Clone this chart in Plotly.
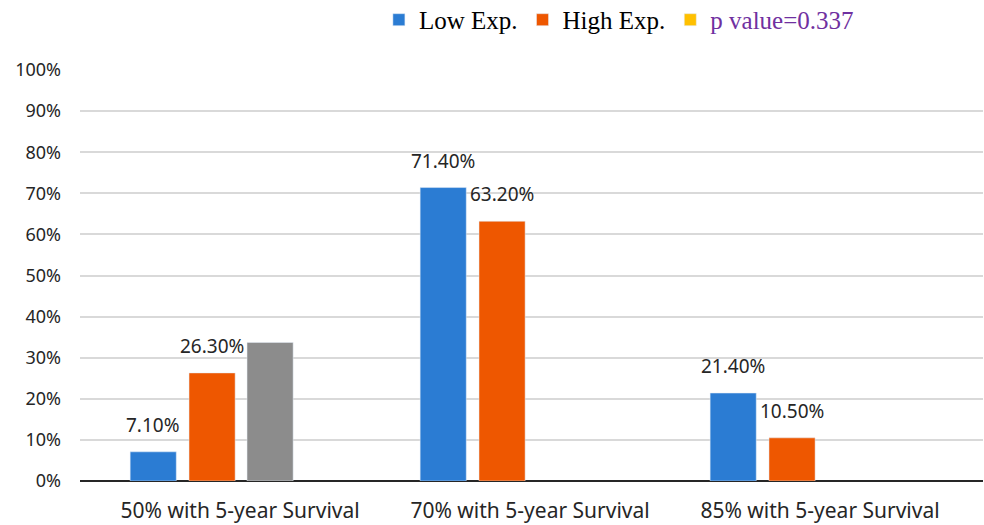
import plotly.graph_objects as go

# Survival-rate groups and the share of patients in each expression group
categories = ["50% with 5-year Survival", "70% with 5-year Survival", "85% with 5-year Survival"]
low_exp = [0.071, 0.714, 0.214]
high_exp = [0.263, 0.632, 0.105]
p_value = [0.337, None, None]

series_names = ["Low Exp.", "High Exp.", "p value=0.337"]
y_ticks = [i / 10 for i in range(11)]

BLUE = "#2B7CD3"
ORANGE = "#EE5700"
GRAY = "#8C8C8C"
YELLOW = "#FFC000"
PURPLE = "#7030A0"
TEXT = "#262626"
SANS = "Noto Sans"
SERIF = "Liberation Serif"

BAR_W = 0.159
OFFSETS = {"low": -0.379, "high": -0.176, "p": 0.024}
label_font = dict(family=SANS, size=19, color=TEXT)

fig = go.Figure()

fig.add_trace(go.Bar(
    x=categories, y=low_exp, name=series_names[0],
    marker=dict(color=BLUE), width=BAR_W, offset=OFFSETS["low"],
))
fig.add_trace(go.Bar(
    x=categories, y=high_exp, name=series_names[1],
    marker=dict(color=ORANGE), width=BAR_W, offset=OFFSETS["high"],
))
# p-value bar is drawn in gray; its legend key uses the yellow swatch
fig.add_trace(go.Bar(
    x=categories, y=p_value, name=series_names[2],
    marker=dict(color=GRAY), width=BAR_W, offset=OFFSETS["p"],
    showlegend=False,
))
fig.add_trace(go.Bar(
    x=categories[:1], y=[None],
    name=f'<span style="color:{PURPLE}">{series_names[2]}</span>',
    marker=dict(color=YELLOW), width=BAR_W, offset=OFFSETS["p"],
))

# value labels centred over the blue and orange bars
for values, key in ((low_exp, "low"), (high_exp, "high")):
    for i, v in enumerate(values):
        fig.add_annotation(
            x=i + OFFSETS[key] + BAR_W / 2, y=v,
            text=f"{v:.2%}", showarrow=False,
            xanchor="center", yanchor="bottom", yshift=12,
            font=label_font,
        )

fig.update_layout(
    width=984, height=525,
    margin=dict(l=80, r=1, t=70, b=44, autoexpand=False),
    paper_bgcolor="white", plot_bgcolor="white",
    barmode="overlay",
    showlegend=True,
    legend=dict(
        orientation="h", x=0.331, xanchor="left",
        yref="container", y=0.962, yanchor="middle",
        font=dict(family=SERIF, size=25, color="#000000"),
        bgcolor="rgba(0,0,0,0)", itemclick=False, itemdoubleclick=False,
    ),
    font=dict(family=SANS, color=TEXT),
)

fig.update_xaxes(
    type="category", range=[-0.552, 2.562],
    showgrid=False, showline=False, zeroline=False,
    ticks="", ticklabelstandoff=15,
    tickfont=dict(family=SANS, size=21, color=TEXT),
)
fig.update_yaxes(
    range=[0, 1], tickvals=y_ticks, tickformat=".0%",
    showgrid=True, gridcolor="#D9D9D9", gridwidth=1.5,
    zeroline=True, zerolinecolor="#262626", zerolinewidth=2,
    showline=False, ticks="", ticklabelstandoff=18,
    tickfont=dict(family=SANS, size=18, color=TEXT),
)

fig.write_html("out.html")
